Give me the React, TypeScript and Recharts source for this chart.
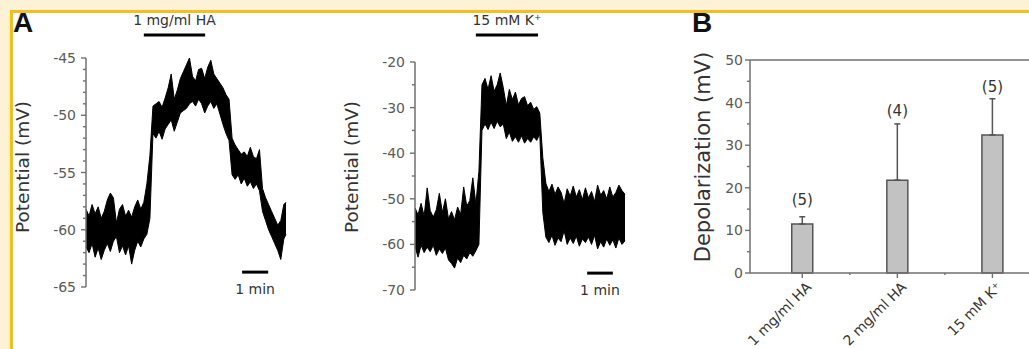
import React from 'react';
import { Area, Bar, ComposedChart, ErrorBar, LabelList, ReferenceLine, Scatter, XAxis, YAxis } from 'recharts';

// panel A, left trace: 1 mg/ml HA (time in s, envelope of the recording in mV)
const haTime = [
  0, 7, 14, 21, 28, 35, 42, 49, 56, 63, 70, 77, 84, 91, 98, 105, 112, 119, 126, 133, 140, 147, 154,
  161, 168, 175, 182, 189, 196, 203, 210, 217, 224, 231, 238, 245, 252, 259, 266, 273, 280, 287, 294,
  301, 308, 315, 322, 329, 336, 343, 350, 357, 364, 371, 378, 385, 392, 399, 406, 413, 420, 427, 434,
  441, 448, 455, 460,
];
const haLow = [
  -61.5, -62.0, -61.2, -62.4, -61.6, -62.6, -61.8, -61.2, -61.9, -61.0,
  -60.6, -62.0, -61.4, -62.2, -61.4, -63.0, -61.8, -61.0, -61.5, -60.8,
  -60.4, -59.0, -51.6, -52.0, -51.4, -52.1, -51.2, -50.8, -50.4, -51.4,
  -50.6, -49.8, -49.6, -49.4, -49.0, -48.8, -49.2, -48.6, -49.0, -49.8,
  -49.2, -48.8, -49.4, -49.0, -49.9, -50.8, -51.6, -52.2, -55.2, -55.6,
  -55.2, -56.0, -55.5, -56.2, -55.8, -56.4, -56.0, -56.6, -58.4, -59.2,
  -60.0, -60.6, -61.2, -61.8, -62.6, -60.8, -60.4,
];
const haHigh = [
  -58.2, -58.8, -57.8, -58.6, -58.0, -59.0, -58.4, -57.4, -56.8, -57.2,
  -59.4, -58.2, -57.8, -58.8, -58.3, -58.9, -58.0, -57.4, -58.2, -57.6,
  -56.0, -53.5, -49.2, -49.0, -48.8, -49.3, -48.5, -47.6, -46.4, -48.6,
  -47.8, -46.8, -46.2, -45.6, -45.0, -46.6, -47.0, -46.0, -45.9, -46.8,
  -45.8, -45.2, -46.4, -46.8, -47.2, -47.6, -48.2, -48.6, -52.0, -52.6,
  -53.0, -53.4, -53.2, -53.6, -52.8, -53.6, -53.8, -53.0, -56.4, -57.2,
  -57.8, -58.4, -59.0, -59.6, -59.2, -57.8, -57.6,
];
const haTicks = [-65, -64, -63, -62, -61, -60, -59, -58, -57, -56, -55, -54, -53, -52, -51, -50, -49, -48, -47, -46, -45];
const haMajor = [-65, -60, -55, -50, -45];
const haStimulus = [133, 274];
const haScaleBar = [359, 419];

// panel A, right trace: 15 mM K+
const kTime = [
  0, 7, 14, 21, 28, 35, 42, 49, 56, 63, 70, 77, 84, 91, 98, 105, 112, 119, 126, 133, 140, 147, 154,
  161, 168, 175, 182, 189, 196, 203, 210, 217, 224, 231, 238, 245, 252, 259, 266, 273, 280, 287, 294,
  301, 308, 315, 322, 329, 336, 343, 350, 357, 364, 371, 378, 385, 392, 399, 406, 413, 420, 427, 434,
  441, 448, 455, 462, 469, 476, 483,
];
const kLow = [
  -60.5, -62.8, -60.2, -61.8, -60.6, -61.6, -60.2, -62.4, -61.0, -62.0,
  -60.8, -63.4, -64.2, -65.2, -63.0, -64.0, -62.4, -63.2, -61.8, -62.6,
  -61.4, -60.0, -35.0, -33.6, -34.8, -33.2, -34.6, -33.0, -34.2, -33.6,
  -36.8, -35.4, -37.4, -36.4, -37.6, -36.2, -37.8, -36.8, -37.6, -36.4,
  -37.2, -35.8, -53.0, -58.4, -59.6, -58.0, -60.2, -58.6, -59.4, -57.0,
  -60.0, -58.6, -59.8, -58.2, -60.4, -58.8, -59.6, -58.4, -60.0, -58.0,
  -61.0, -59.4, -60.6, -58.8, -60.2, -59.0, -60.8, -58.6, -60.0, -59.2,
];
const kHigh = [
  -52.0, -53.5, -51.0, -53.8, -47.6, -52.6, -54.0, -52.4, -48.8, -53.0,
  -50.0, -54.4, -52.8, -54.6, -51.8, -53.4, -47.4, -51.6, -50.4, -45.4,
  -51.2, -44.0, -25.0, -23.6, -26.0, -23.0, -26.4, -25.0, -22.4, -25.6,
  -29.6, -26.0, -28.2, -26.6, -29.4, -28.0, -27.6, -29.6, -28.8, -30.4,
  -29.8, -31.2, -41.0, -46.6, -48.4, -46.8, -49.0, -47.4, -48.6, -51.0,
  -47.8, -49.4, -47.2, -49.6, -48.0, -50.2, -47.6, -49.8, -48.4, -50.6,
  -47.0, -49.2, -48.2, -50.0, -47.4, -49.6, -48.6, -47.0, -48.2, -49.0,
];
const kTicks = [-70, -65, -60, -55, -50, -45, -40, -35, -30, -25, -20];
const kMajor = [-70, -60, -50, -40, -30, -20];
const kStimulus = [140, 283];
const kScaleBar = [396, 455];

// panel B
const groups = ['1 mg/ml HA', '2 mg/ml HA', '15 mM K⁺'];
const groupPos = [1, 2, 3];
const depMean = [11.5, 21.8, 32.4];
const depSem = [1.7, 13.2, 8.5];
const nCells = ['(5)', '(4)', '(5)'];
const nLabelAt = [17.3, 38.0, 43.7];
const depTicks = [0, 5, 10, 15, 20, 25, 30, 35, 40, 45, 50];
const depMajor = [0, 10, 20, 30, 40, 50];
const depXTicks = [1, 1.5, 2, 2.5, 3, 3.5];

const AXIS = '#707070';
const INK = '#333';
const TICK_TEXT = '#5a5a5a';

function yTick(major: number[], gap: number) {
  return (p: any) => {
    const isMajor = major.includes(p.payload.value);
    return (
      <g>
        <line x1={p.x - (isMajor ? 5 : 3)} x2={p.x} y1={p.y} y2={p.y} stroke={AXIS} strokeWidth={1.4} />
        {isMajor && (
          <text x={p.x - gap} y={p.y} dy="0.36em" textAnchor="end" fontSize={14} fill={TICK_TEXT}>
            {p.payload.value}
          </text>
        )}
      </g>
    );
  };
}

function groupTick(p: any) {
  const idx = groupPos.indexOf(p.payload.value);
  const ax = p.x + 10;
  const ay = p.y + 15;
  return (
    <g>
      <line x1={p.x} x2={p.x} y1={p.y} y2={p.y + (idx >= 0 ? 5 : 2)} stroke={AXIS} strokeWidth={1.4} />
      {idx >= 0 && (
        <text x={ax} y={ay} transform={`rotate(-45 ${ax} ${ay})`} textAnchor="end" fontSize={14} fill={INK}>
          {groups[idx]}
        </text>
      )}
    </g>
  );
}

function VTitle({ tx, ty, title, fs }: any) {
  return (
    <text x={tx} y={ty} transform={`rotate(-90 ${tx} ${ty})`} textAnchor="middle" dominantBaseline="central" fontSize={fs} fill={INK}>
      {title}
    </text>
  );
}

type TraceProps = {
  left: number;
  width: number;
  plotWidth: number;
  top: number;
  bottom: number;
  time: number[];
  low: number[];
  high: number[];
  yDomain: [number, number];
  ticks: number[];
  major: number[];
  tMax: number;
  stimulus: number[];
  stimulusY: number;
  stimulusLabel: string;
  scaleBar: number[];
  scaleBarY: number;
};

function Trace(props: TraceProps) {
  const data = props.time.map((t, i) => ({ t, range: [props.low[i], props.high[i]] }));
  return (
    <div style={{ position: 'absolute', left: props.left, top: 0 }}>
      <ComposedChart
        width={props.width}
        height={349}
        data={data}
        margin={{ top: props.top, right: props.width - 86 - props.plotWidth, bottom: props.bottom, left: 0 }}
      >
        <XAxis type="number" dataKey="t" domain={[0, props.tMax]} hide />
        <YAxis
          type="number"
          width={86}
          domain={props.yDomain}
          ticks={props.ticks}
          interval={0}
          tickSize={0}
          tickMargin={0}
          tickLine={false}
          axisLine={{ stroke: AXIS, strokeWidth: 1.5 }}
          tick={yTick(props.major, 10)}
          label={<VTitle tx={22} ty={167} title="Potential (mV)" fs={18.5} />}
        />
        <Area
          type="linear"
          dataKey="range"
          stroke="#000"
          strokeWidth={1}
          fill="#000"
          fillOpacity={1}
          dot={false}
          activeDot={false}
          isAnimationActive={false}
        />
        <ReferenceLine
          segment={[{ x: props.stimulus[0], y: props.stimulusY }, { x: props.stimulus[1], y: props.stimulusY }]}
          ifOverflow="visible"
          stroke="#000"
          strokeWidth={3}
          label={{ value: props.stimulusLabel, position: 'top', offset: 10, fontSize: 14, fill: INK }}
        />
        <ReferenceLine
          segment={[{ x: props.scaleBar[0], y: props.scaleBarY }, { x: props.scaleBar[1], y: props.scaleBarY }]}
          ifOverflow="visible"
          stroke="#000"
          strokeWidth={3}
          label={{ value: '1 min', position: 'bottom', offset: 12, fontSize: 14, fill: INK }}
        />
      </ComposedChart>
    </div>
  );
}

export default function App() {
  const barData = groupPos.map((pos, i) => ({
    pos,
    mean: depMean[i],
    err: [0, depSem[i]],
    n: nCells[i],
    nAt: nLabelAt[i],
  }));

  return (
    <div
      style={{
        position: 'absolute',
        left: 0,
        top: 0,
        width: 1029,
        height: 349,
        overflow: 'hidden',
        background: '#fff',
        fontFamily: '"DejaVu Sans", sans-serif',
      }}
    >
      <div style={{ position: 'absolute', left: 0, top: 0, width: 1029, height: 10, background: '#fdf1d6' }} />
      <div style={{ position: 'absolute', left: 0, top: 0, width: 10, height: 349, background: '#fdf1d6' }} />
      <div style={{ position: 'absolute', left: 10, top: 10, width: 1019, height: 2.5, background: '#f5bd1f' }} />
      <div style={{ position: 'absolute', left: 10, top: 10, width: 2.5, height: 339, background: '#f5bd1f' }} />

      <Trace
        left={0}
        width={300}
        plotWidth={200}
        top={58}
        bottom={62}
        time={haTime}
        low={haLow}
        high={haHigh}
        yDomain={[-65, -45]}
        ticks={haTicks}
        major={haMajor}
        tMax={460}
        stimulus={haStimulus}
        stimulusY={-43}
        stimulusLabel="1 mg/ml HA"
        scaleBar={haScaleBar}
        scaleBarY={-63.7}
      />
      <Trace
        left={329}
        width={310}
        plotWidth={210}
        top={62}
        bottom={59}
        time={kTime}
        low={kLow}
        high={kHigh}
        yDomain={[-70, -20]}
        ticks={kTicks}
        major={kMajor}
        tMax={483}
        stimulus={kStimulus}
        stimulusY={-14.1}
        stimulusLabel="15 mM K⁺"
        scaleBar={kScaleBar}
        scaleBarY={-66.3}
      />

      <div style={{ position: 'absolute', left: 660, top: 0 }}>
        <ComposedChart width={418} height={349} data={barData} margin={{ top: 60, right: 0, bottom: 0, left: 0 }}>
          <XAxis
            type="number"
            dataKey="pos"
            domain={[0.45, 3.9]}
            ticks={depXTicks}
            interval={0}
            height={76}
            tickSize={0}
            tickMargin={0}
            tickLine={false}
            axisLine={{ stroke: AXIS, strokeWidth: 1.5 }}
            tick={groupTick}
          />
          <YAxis
            type="number"
            width={90}
            domain={[0, 50]}
            ticks={depTicks}
            interval={0}
            tickSize={0}
            tickMargin={0}
            tickLine={false}
            axisLine={{ stroke: AXIS, strokeWidth: 1.5 }}
            tick={yTick(depMajor, 7)}
            label={<VTitle tx={43} ty={157} title="Depolarization (mV)" fs={21} />}
          />
          <ReferenceLine y={50} stroke={AXIS} strokeWidth={1.5} />
          <Bar dataKey="mean" barSize={21} fill="#c2c2c2" stroke="#555" strokeWidth={1.5} isAnimationActive={false}>
            <ErrorBar dataKey="err" direction="y" width={3} stroke="#555" strokeWidth={1.5} />
          </Bar>
          <Scatter dataKey="nAt" shape={() => <g />} isAnimationActive={false}>
            <LabelList dataKey="n" position="center" fontSize={15} fill={INK} />
          </Scatter>
        </ComposedChart>
      </div>

      <div style={{ position: 'absolute', left: 13, top: 9, fontFamily: '"Liberation Sans", Arial, sans-serif', fontWeight: 700, fontSize: 28, lineHeight: 1, color: '#111' }}>
        A
      </div>
      <div style={{ position: 'absolute', left: 692, top: 9, fontFamily: '"Liberation Sans", Arial, sans-serif', fontWeight: 700, fontSize: 28, lineHeight: 1, color: '#111' }}>
        B
      </div>
    </div>
  );
}
